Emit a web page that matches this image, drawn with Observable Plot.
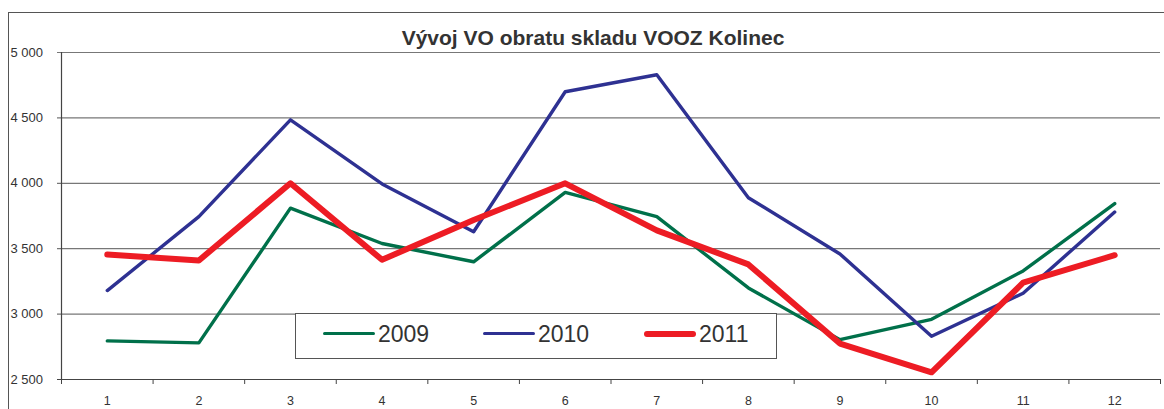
<!DOCTYPE html>
<html><head><meta charset="utf-8">
<script src="https://cdn.jsdelivr.net/npm/d3@7"></script>
<script src="https://cdn.jsdelivr.net/npm/@observablehq/plot@0.6"></script>
<style>
html,body{margin:0;padding:0;background:#fff;}
body{width:1164px;height:409px;position:relative;overflow:hidden;font-family:"Liberation Sans",Arial,sans-serif;}
#frame{position:absolute;left:8px;top:12px;width:1170px;height:420px;border-left:1px solid #555;border-top:1px solid #555;box-sizing:border-box;}
#chart{position:absolute;left:0;top:0;}
#title{position:absolute;left:0;width:1186px;top:26px;text-align:center;font-weight:bold;font-size:21px;color:#333;line-height:24px;}
#legend{position:absolute;left:295px;top:313px;width:482px;height:46px;border:1px solid #555;background:#fff;box-sizing:border-box;}
.item{position:absolute;top:7px;font-size:23px;color:#333;line-height:26px;}
.sw{position:absolute;top:12px;height:0;border-radius:3px;}
</style></head>
<body>
<div id="frame"></div>
<div id="chart"></div>
<div id="title">Vývoj VO obratu skladu VOOZ Kolinec</div>
<div id="legend"></div>
<script>
const months = [1,2,3,4,5,6,7,8,9,10,11,12];
const series = ["2009","2010","2011"];
const v2009 = [2795,2780,3810,3540,3400,3930,3745,3200,2805,2960,3330,3845];
const v2010 = [3180,3745,4485,3995,3630,4700,4830,3890,3460,2830,3160,3780];
const v2011 = [3455,3410,4000,3415,3720,4000,3640,3380,2775,2555,3240,3450];
const yTicks = [2500,3000,3500,4000,4500,5000];
const colors = ["#00704a","#2e3192","#ed1c24"];
const widths = [3.4,3.4,6];

const values = {"2009": v2009, "2010": v2010, "2011": v2011};
const data = series.flatMap(s => months.map((m,i) => ({month: m, value: values[s][i], year: s})));
const bounds = months.map(m => m - 0.5).concat([months.length + 0.5]);
const fmt = v => String(v).replace(/\B(?=(\d{3})+(?!\d))/g, "\u00a0");

const chart = Plot.plot({
  width: 1164, height: 409,
  marginTop: 52, marginBottom: 30, marginLeft: 61, marginRight: 4,
  style: {fontFamily: "Liberation Sans, Arial, sans-serif", background: "transparent", overflow: "visible"},
  x: {type: "linear", domain: [0.5, 12.5], axis: null},
  y: {domain: [2500, 5000], axis: null},
  marks: [
    Plot.ruleY(yTicks, {y: d => d, x1: 0.5, x2: 12.5, insetLeft: -4, stroke: "#777", strokeWidth: 1.2}),
    Plot.ruleX([0.5], {y1: 2500, y2: 5000, stroke: "#444", strokeWidth: 1.2}),
    Plot.ruleY([2500], {x1: 0.5, x2: 12.5, insetLeft: -4, stroke: "#444", strokeWidth: 1.2}),
    Plot.ruleX(bounds, {x: d => d, y1: 2500, y2: 2500, insetBottom: -5, stroke: "#444"}),
    Plot.text(yTicks, {y: d => d, x: 0.5, text: fmt, textAnchor: "start", dx: -51, fontSize: 13, fill: "#333"}),
    Plot.text(months, {x: d => d, y: 2500, text: d => String(d), dy: 21, fontSize: 12.5, fill: "#333"}),
    ...series.map((s, i) => Plot.line(data.filter(d => d.year === s), {
      x: "month", y: "value", stroke: colors[i], strokeWidth: widths[i],
      strokeLinejoin: "round", strokeLinecap: "round"
    }))
  ]
});
document.getElementById("chart").appendChild(chart);

const legend = document.getElementById("legend");
const lx = [27, 187, 348];
series.forEach((s, i) => {
  const sw = document.createElement("div");
  sw.className = "sw";
  sw.style.left = lx[i] + "px";
  sw.style.width = "52px";
  sw.style.borderTop = widths[i] + "px solid " + colors[i];
  sw.style.top = (20 - widths[i]/2) + "px";
  legend.appendChild(sw);
  const t = document.createElement("div");
  t.className = "item";
  t.style.left = (lx[i] + 55) + "px";
  t.textContent = s;
  legend.appendChild(t);
});
</script>
</body></html>
